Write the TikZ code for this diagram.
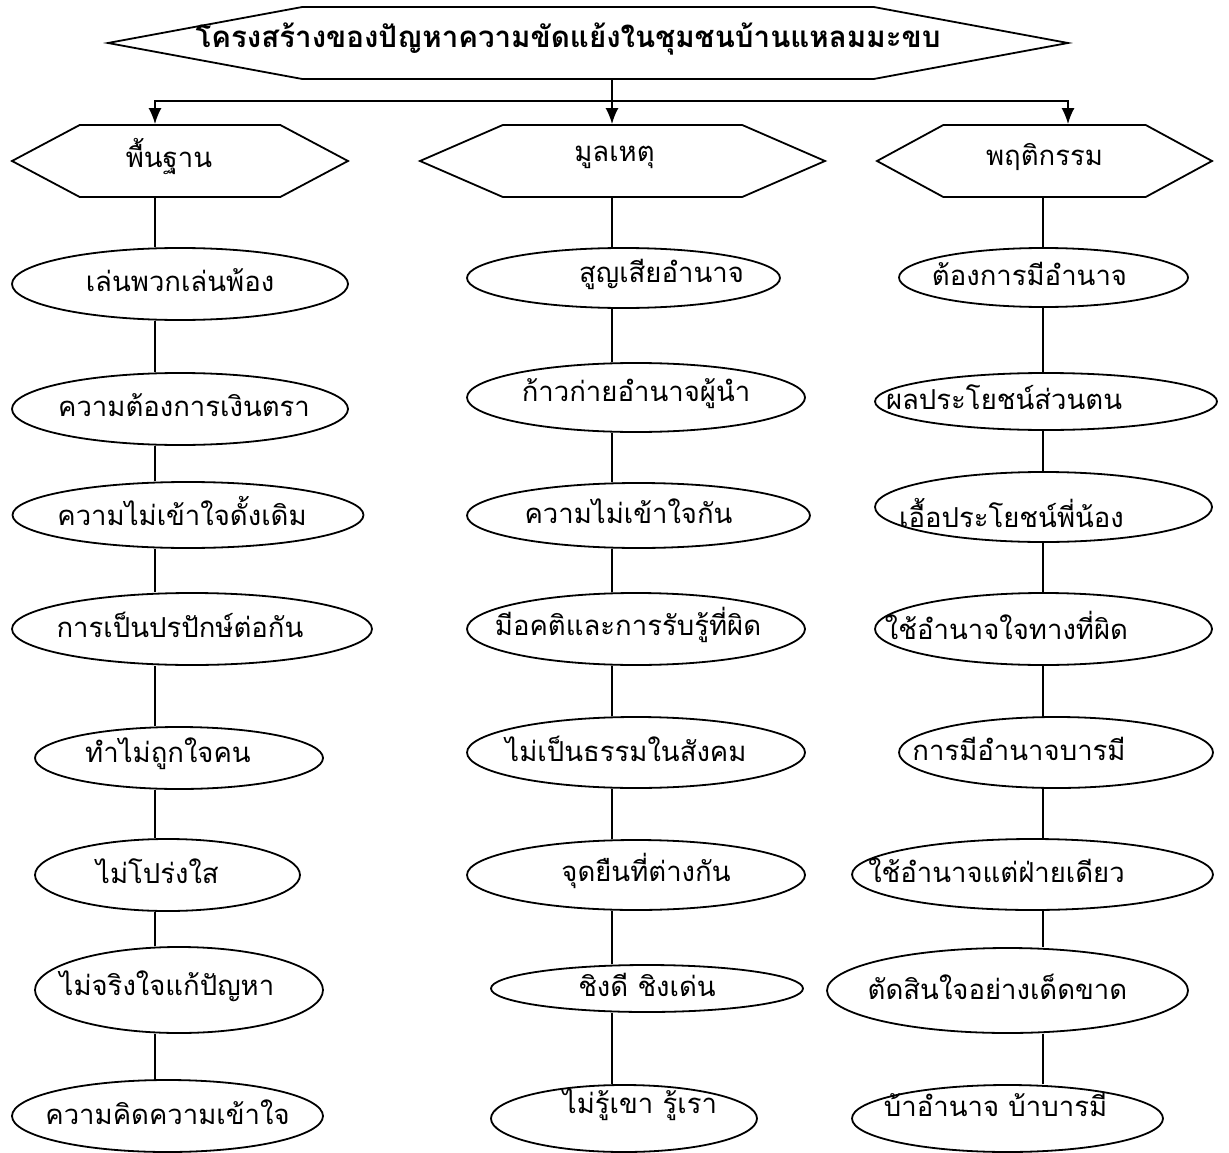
\documentclass[tikz,border=0pt]{standalone}
\usepackage{fontspec}
\newfontfamily\thaifont[Script=Thai]{Loma}
\usetikzlibrary{arrows.meta}
\usetikzlibrary{calc}
\usetikzlibrary{shapes.geometric}
\usetikzlibrary{shapes.symbols}

\begin{document}
\begin{tikzpicture}[
  x=1pt, y=-1pt,
  > = {Latex[length=16pt,width=13pt]},
  every node/.style = {font=\thaifont\fontsize{27.5}{32}\selectfont},
  every label/.style = {yshift=4pt},
  hexa/.style = {draw, signal, signal to=east and west, line width=1.8pt, minimum height=72pt, inner sep=0pt},
  oval/.style = {draw, ellipse, line width=1.8pt, inner sep=0pt},
  head/.style = {font=\thaifont\bfseries\fontsize{29.5}{34}\selectfont},
  link/.style = {line width=1.8pt}
  ]
  \useasboundingbox (0,0) rectangle (1229,1153);

  % title and the three groups
  \node[hexa, minimum width=960pt, signal pointer angle=21,
    label={[head, xshift=-20pt]center:โครงสร้างของปัญหาความขัดแย้งในชุมชนบ้านแหลมมะขบ}] (title) at (588,43) {};
  \node[hexa, minimum width=336pt, signal pointer angle=56, label={[xshift=-11pt]center:พื้นฐาน}] (hl) at (180,161) {};
  \node[hexa, minimum width=405pt, signal pointer angle=47, label={[xshift=-8pt]center:มูลเหตุ}] (hm) at (622.5,161) {};
  \node[hexa, minimum width=335pt, signal pointer angle=57, label={center:พฤติกรรม}] (hr) at (1044.5,161) {};

  \coordinate (fork) at (612,101);
  \coordinate (cl) at (155,0);
  \coordinate (cm) at (612,0);
  \coordinate (cr) at (1043,0);

  \draw[link, ->] ([xshift=24pt]title.south) -- ([xshift=-10.5pt]hm.north);
  \draw[link, ->] (fork) -| ([xshift=-25pt]hl.north);
  \draw[link, ->] (fork) -| ([xshift=23.5pt]hr.north);

  % left column
  \node[oval, minimum width=336pt, minimum height=72pt, label={center:เล่นพวกเล่นพ้อง}] (f1) at (180,284) {};
  \node[oval, minimum width=336pt, minimum height=72pt, label={[xshift=4pt]center:ความต้องการเงินตรา}] (f2) at (180,409) {};
  \node[oval, minimum width=351pt, minimum height=66pt, label={[xshift=-6pt]center:ความไม่เข้าใจดั้งเดิม}] (f3) at (188,515) {};
  \node[oval, minimum width=360pt, minimum height=72pt, label={[xshift=-12pt]center:การเป็นปรปักษ์ต่อกัน}] (f4) at (192,629) {};
  \node[oval, minimum width=288pt, minimum height=62pt, label={[xshift=-11pt]center:ทำไม่ถูกใจคน}] (f5) at (179,758) {};
  \node[oval, minimum width=265pt, minimum height=72pt, label={[xshift=-10pt]center:ไม่โปร่งใส}] (f6) at (167.5,875) {};
  \node[oval, minimum width=288pt, minimum height=86pt, label={[xshift=-12pt]center:ไม่จริงใจแก้ปัญหา}] (f7) at (179,990) {};
  \node[oval, minimum width=311pt, minimum height=72pt, label={center:ความคิดความเข้าใจ}] (f8) at (167.5,1116) {};

  % middle column
  \node[oval, minimum width=313pt, minimum height=60pt, label={[xshift=38pt]center:สูญเสียอำนาจ}] (m1) at (623.5,278) {};
  \node[oval, minimum width=338pt, minimum height=69pt, label={center:ก้าวก่ายอำนาจผู้นำ}] (m2) at (636,397.5) {};
  \node[oval, minimum width=343pt, minimum height=65pt, label={[xshift=-10pt]center:ความไม่เข้าใจกัน}] (m3) at (638.5,515.5) {};
  \node[oval, minimum width=338pt, minimum height=72pt, label={[xshift=-8pt]center:มีอคติและการรับรู้ที่ผิด}] (m4) at (636,629) {};
  \node[oval, minimum width=338pt, minimum height=71pt, label={[xshift=-10pt]center:ไม่เป็นธรรมในสังคม}] (m5) at (636,752.5) {};
  \node[oval, minimum width=338pt, minimum height=70pt, label={[xshift=10pt]center:จุดยืนที่ต่างกัน}] (m6) at (636,875) {};
  \node[oval, minimum width=312pt, minimum height=47pt, label={center:ชิงดี ชิงเด่น}] (m7) at (647,988.5) {};
  \node[oval, minimum width=266pt, minimum height=67pt, label={[xshift=16pt, yshift=10pt]center:ไม่รู้เขา รู้เรา}] (m8) at (624,1118.5) {};

  % right column
  \node[oval, minimum width=289pt, minimum height=59pt, label={[xshift=-14pt]center:ต้องการมีอำนาจ}] (r1) at (1043.5,277.5) {};
  \node[oval, minimum width=342pt, minimum height=57pt, label={[xshift=-42pt]center:ผลประโยชน์ส่วนตน}] (r2) at (1046,401.5) {};
  \node[oval, minimum width=337pt, minimum height=70pt, label={[xshift=-32pt, yshift=-10pt]center:เอื้อประโยชน์พี่น้อง}] (r3) at (1043.5,507) {};
  \node[oval, minimum width=337pt, minimum height=72pt, label={[xshift=-37pt]center:ใช้อำนาจใจทางที่ผิด}] (r4) at (1043.5,629) {};
  \node[oval, minimum width=314pt, minimum height=71pt, label={[xshift=-37pt]center:การมีอำนาจบารมี}] (r5) at (1056,752.5) {};
  \node[oval, minimum width=361pt, minimum height=71pt, label={[xshift=-36pt]center:ใช้อำนาจแต่ฝ่ายเดียว}] (r6) at (1032.5,874.5) {};
  \node[oval, minimum width=361pt, minimum height=85pt, label={[xshift=-10pt]center:ตัดสินใจอย่างเด็ดขาด}] (r7) at (1007.5,990.5) {};
  \node[oval, minimum width=311pt, minimum height=67pt, label={[xshift=-12pt, yshift=10pt]center:บ้าอำนาจ บ้าบารมี}] (r8) at (1007.5,1118.5) {};

  % connectors
  \draw[link] (hl.south -| cl) -- (f1.north -| cl) (f1.south -| cl) -- (f2.north -| cl)
    (f2.south -| cl) -- (f3.north -| cl) (f3.south -| cl) -- (f4.north -| cl)
    (f4.south -| cl) -- (f5.north -| cl) (f5.south -| cl) -- (f6.north -| cl)
    (f6.south -| cl) -- (f7.north -| cl) (f7.south -| cl) -- (f8.north -| cl);
  \draw[link] (hm.south -| cm) -- (m1.north -| cm) (m1.south -| cm) -- (m2.north -| cm)
    (m2.south -| cm) -- (m3.north -| cm) (m3.south -| cm) -- (m4.north -| cm)
    (m4.south -| cm) -- (m5.north -| cm) (m5.south -| cm) -- (m6.north -| cm)
    (m6.south -| cm) -- (m7.north -| cm) (m7.south -| cm) -- (m8.north -| cm);
  \draw[link] (hr.south -| cr) -- (r1.north -| cr) (r1.south -| cr) -- (r2.north -| cr)
    (r2.south -| cr) -- (r3.north -| cr) (r3.south -| cr) -- (r4.north -| cr)
    (r4.south -| cr) -- (r5.north -| cr) (r5.south -| cr) -- (r6.north -| cr)
    (r6.south -| cr) -- (r7.north -| cr) (r7.south -| cr) -- (r8.north -| cr);
\end{tikzpicture}
\end{document}
